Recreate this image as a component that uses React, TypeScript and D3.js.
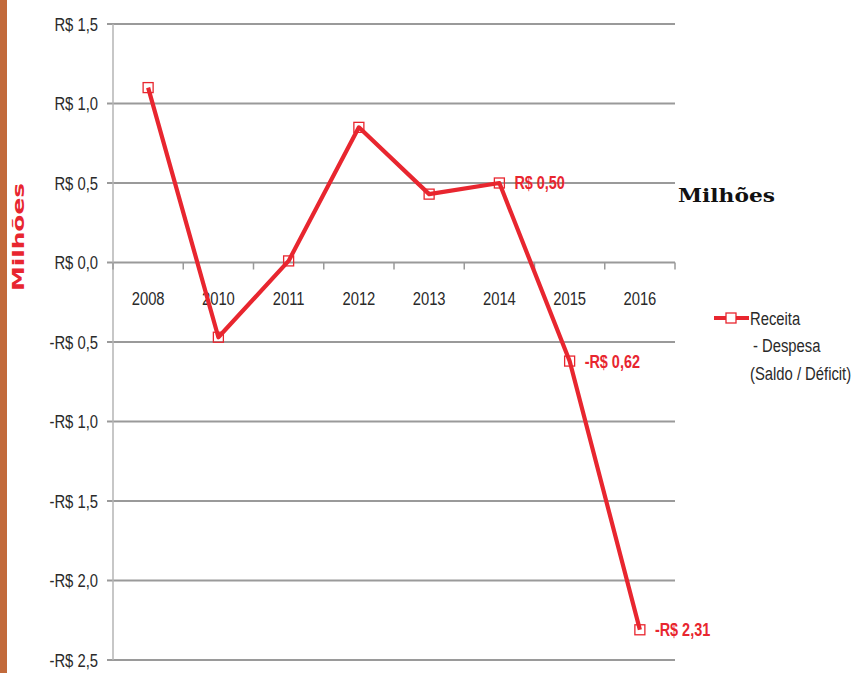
import React from "react";
import * as d3 from "d3";

const categories = ["2008", "2010", "2011", "2012", "2013", "2014", "2015", "2016"];
const values = [1.1, -0.47, 0.01, 0.85, 0.43, 0.5, -0.62, -2.31];
const yTicks = [1.5, 1.0, 0.5, 0.0, -0.5, -1.0, -1.5, -2.0, -2.5];
const dataLabels: { cat: string; text: string }[] = [
  { cat: "2014", text: "R$ 0,50" },
  { cat: "2015", text: "-R$ 0,62" },
  { cat: "2016", text: "-R$ 2,31" },
];
const legendLines = ["Receita", "- Despesa", "(Saldo / Déficit)"];

const RED = "#e8262f";
const FONT = "'Liberation Sans', Arial, sans-serif";
const SX = 0.78;

function fmtTick(v: number) {
  const s = Math.abs(v).toFixed(1).replace(".", ",");
  return (v < 0 ? "-" : "") + "R$ " + s;
}

function NText(props: {
  x: number;
  y: number;
  anchor?: "start" | "middle" | "end";
  size?: number;
  weight?: string;
  fill?: string;
  children: React.ReactNode;
}) {
  const { x, y, anchor = "start", size = 16, weight = "normal", fill = "#2a2a2a", children } = props;
  return (
    <text
      transform={`translate(${x},${y}) scale(${SX},1)`}
      dy="0.35em"
      textAnchor={anchor}
      fontFamily={FONT}
      fontSize={size}
      fontWeight={weight}
      fill={fill}
    >
      {children}
    </text>
  );
}

export default function App() {
  const W = 856, H = 673;
  const x = d3.scaleBand<string>().domain(categories).range([113, 675]);
  const y = d3.scaleLinear().domain([-2.5, 1.5]).range([660, 24]);
  const cx = (c: string) => (x(c) as number) + x.bandwidth() / 2;
  const line = d3
    .line<number>()
    .x((_, i) => cx(categories[i]))
    .y((d) => y(d));
  const boundaries = categories.map((c) => x(c) as number).concat([675]);

  return (
    <svg width={W} height={H} style={{ position: "absolute", left: 0, top: 0, background: "#fff" }}>
      <rect x={0} y={0} width={W} height={H} fill="#fff" />
      <rect x={0} y={0} width={7} height={H} fill="#c26a3b" />
      {yTicks.map((t) => (
        <g key={t}>
          <line x1={107} x2={675} y1={y(t)} y2={y(t)} stroke="#9a9a9a" strokeWidth={2} />
          <NText x={98} y={y(t)} anchor="end" size={19}>
            {fmtTick(t)}
          </NText>
        </g>
      ))}
      <line x1={113} x2={113} y1={y(1.5)} y2={y(-2.5)} stroke="#b5b5b5" strokeWidth={1.5} />
      {boundaries.map((b, i) => (
        <line key={i} x1={b} x2={b} y1={y(0)} y2={y(0) + 7} stroke="#9a9a9a" strokeWidth={1.5} />
      ))}
      {categories.map((c) => (
        <NText key={c} x={cx(c)} y={298} anchor="middle" size={19}>
          {c}
        </NText>
      ))}
      <path d={line(values) || ""} fill="none" stroke={RED} strokeWidth={4.2} strokeLinejoin="round" />
      {values.map((v, i) => (
        <rect
          key={i}
          x={cx(categories[i]) - 5}
          y={y(v) - 5}
          width={10}
          height={10}
          fill="none"
          stroke={RED}
          strokeWidth={1.3}
        />
      ))}
      {dataLabels.map((d) => {
        const i = categories.indexOf(d.cat);
        return (
          <NText key={d.cat} x={cx(d.cat) + 15} y={y(values[i])} size={18.5} weight="bold" fill={RED}>
            {d.text}
          </NText>
        );
      })}
      <text
        transform="translate(24,237) rotate(-90)"
        textAnchor="middle"
        fontFamily="'DejaVu Sans', sans-serif"
        fontWeight="bold"
        fontSize={16}
        fill={RED}
        textLength={108}
        lengthAdjust="spacingAndGlyphs"
      >
        Milhões
      </text>
      <text
        x={678}
        y={202}
        fontFamily="'DejaVu Serif', serif"
        fontWeight="bold"
        fontSize={19}
        fill="#111"
        textLength={97}
        lengthAdjust="spacingAndGlyphs"
      >
        Milhões
      </text>
      <line x1={714} x2={749} y1={318} y2={318} stroke={RED} strokeWidth={4} />
      <rect x={726} y={313} width={10} height={10} fill="#fff" stroke={RED} strokeWidth={1.3} />
      {legendLines.map((t, i) => (
        <NText key={t} x={i === 1 ? 753 : 750} y={318 + i * 27.5} size={19}>
          {t}
        </NText>
      ))}
    </svg>
  );
}
